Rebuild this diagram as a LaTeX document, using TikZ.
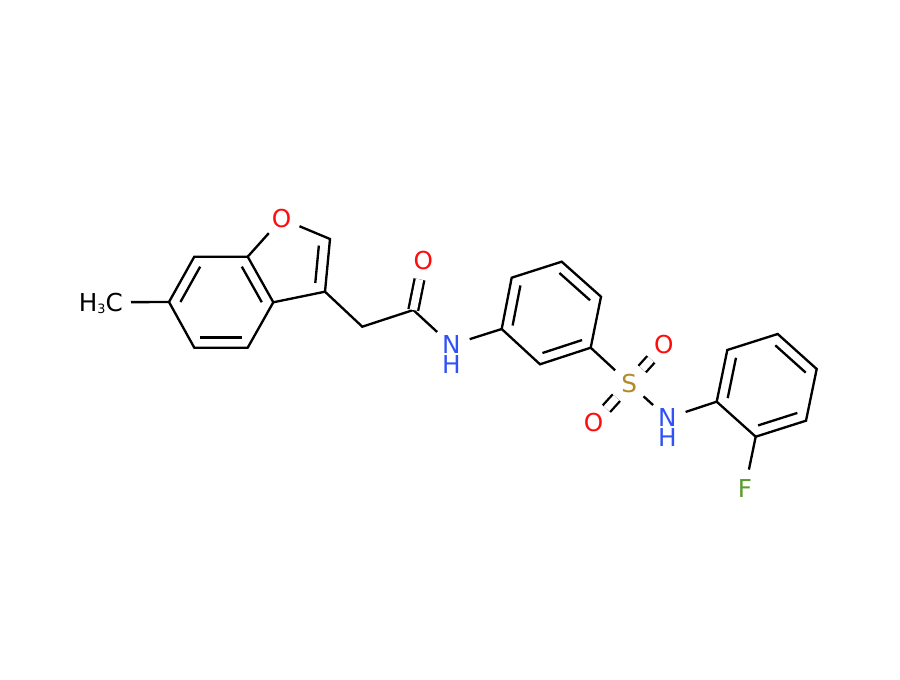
\documentclass[tikz,border=0pt]{standalone}
\usepackage{fontspec}
\setmainfont{DejaVu Sans}
\usetikzlibrary{calc}
\definecolor{oxygen}{RGB}{255,13,13}
\definecolor{nitrogen}{RGB}{48,80,248}
\definecolor{sulfur}{RGB}{176,140,40}
\definecolor{fluorine}{RGB}{90,154,46}
\tikzset{
  bond/.style={line width=1.75pt},
  dbond/.style={bond, double, double distance=5.6pt},
  atomtext/.style={font=\fontsize{18.5}{20}\selectfont, text height=13.4pt, text depth=0pt, inner sep=0pt},
  atom/.style={atomtext, circle, minimum size=28.5pt},
}
\begin{document}
\begin{tikzpicture}[x=0.75pt, y=-0.75pt]
  \useasboundingbox (0,0) rectangle (900,680);
  % benzofuran
  \coordinate (a1) at (169,302);
  \coordinate (a2) at (194.3,256.7);
  \coordinate (a3) at (247.7,256.7);
  \coordinate (a4) at (273.3,302.3);
  \coordinate (a5) at (247.7,347.7);
  \coordinate (a6) at (194.3,347.7);
  \coordinate (c1) at (221,302);
  \coordinate (f1) at (330,239);
  \coordinate (f2) at (325,291.7);
  \coordinate (c2) at (291.5,261.6);
  \node[atom, text=oxygen] (o1) at (281.7,218.8) {O};
  \node[atomtext, anchor=east, inner xsep=6pt] (me) at (131,302.3) {H\raisebox{-1.9pt}{\fontsize{9.6}{10}\selectfont 3}C};
  % chain
  \coordinate (ch) at (362.3,326.7);
  \coordinate (co) at (413.3,310);
  \node[atom, text=oxygen] (o2) at (423.3,260.5) {O};
  \node[atom, text=nitrogen] (n1) at (451.3,345) {N};
  \node[atomtext, text=nitrogen] (h1) at (451.3,365) {H};
  % middle ring
  \coordinate (b1) at (501.7,329);
  \coordinate (b2) at (511.7,277.7);
  \coordinate (b3) at (561.7,261.7);
  \coordinate (b4) at (601,296.7);
  \coordinate (b5) at (590.7,347.7);
  \coordinate (b6) at (540,364.3);
  \coordinate (c3) at (551.3,313);
  % sulfonamide
  \node[atom, text=sulfur] (s1) at (629.3,383.4) {S};
  \node[atom, text=oxygen] (o3) at (663.8,345) {O};
  \node[atom, text=oxygen] (o4) at (593.5,423) {O};
  \node[atom, text=nitrogen] (n2) at (667.3,418) {N};
  \node[atomtext, text=nitrogen] (h2) at (667.3,438) {H};
  % fluorophenyl
  \coordinate (d1) at (716.7,401.7);
  \coordinate (d2) at (727.3,350);
  \coordinate (d3) at (777.7,334);
  \coordinate (d4) at (816.7,369);
  \coordinate (d5) at (806,420.7);
  \coordinate (d6) at (755.7,436.7);
  \coordinate (c4) at (766.7,385.4);
  \node[atom, text=fluorine] (f3) at (745,488.5) {F};

  \draw[bond] (a1) -- (a2) -- (a3) -- (a4) -- (a5) -- (a6) -- cycle;
  \draw[bond] (a3) -- (o1) -- (f1) -- (f2) -- (a4);
  \draw[bond] (me) -- (a1);
  \draw[bond] (f2) -- (ch) -- (co) -- (n1) -- (b1);
  \draw[dbond] (co) -- (o2);
  \draw[bond] (b1) -- (b2) -- (b3) -- (b4) -- (b5) -- (b6) -- cycle;
  \draw[bond] (b5) -- (s1) -- (n2) -- (d1);
  \draw[dbond] (s1) -- (o3);
  \draw[dbond] (s1) -- (o4);
  \draw[bond] (d1) -- (d2) -- (d3) -- (d4) -- (d5) -- (d6) -- cycle;
  \draw[bond] (d6) -- (f3);

  % inner lines of the double bonds
  \foreach \p/\q/\m/\k in {a1/a2/c1/.22, a3/a4/c1/.22, a5/a6/c1/.22, f1/f2/c2/.29,
                           b1/b2/c3/.22, b3/b4/c3/.22, b5/b6/c3/.22,
                           d1/d2/c4/.22, d3/d4/c4/.22, d5/d6/c4/.22}
    \draw[bond] ($(\p)!\k!(\m)$) -- ($(\q)!\k!(\m)$);
\end{tikzpicture}
\end{document}
